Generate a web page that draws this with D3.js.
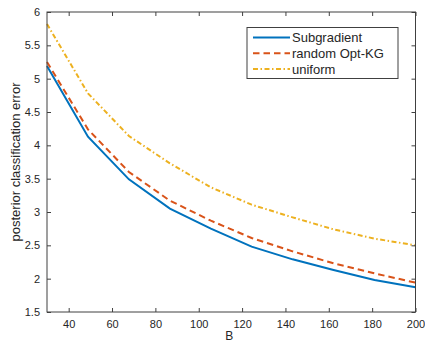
<!DOCTYPE html>
<html>
<head>
<meta charset="utf-8">
<script src="https://cdn.jsdelivr.net/npm/d3@7"></script>
<style>
    body { margin: 0; background: #fff; }
    text { font-family: "Liberation Sans", Arial, sans-serif; fill: #262626; }
</style>
</head>
<body>
<svg id="chart" width="425" height="343"></svg>
<script>
var budgets = [30, 48.9, 67.8, 86.7, 105.6, 124.4, 143.3, 162.2, 181.1, 200];
var subgradient = [5.19, 4.13, 3.49, 3.05, 2.75, 2.48, 2.29, 2.13, 1.98, 1.87];
var randomOptKG = [5.25, 4.24, 3.60, 3.17, 2.87, 2.61, 2.41, 2.23, 2.08, 1.94];
var uniform = [5.82, 4.78, 4.14, 3.73, 3.37, 3.11, 2.92, 2.74, 2.60, 2.50];
var xTicks = [40, 60, 80, 100, 120, 140, 160, 180, 200];
var yTicks = [1.5, 2, 2.5, 3, 3.5, 4, 4.5, 5, 5.5, 6];

var series = [
    { name: 'Subgradient', values: subgradient, color: '#0072BD', dash: null },
    { name: 'random Opt-KG', values: randomOptKG, color: '#D95319', dash: '6.5,4' },
    { name: 'uniform', values: uniform, color: '#EDB120', dash: '5,2.5,1.5,2.5' }
];

var svg = d3.select('#chart');
var margin = { top: 12, left: 47, bottom: 31, right: 9.5 };
var width = 425 - margin.left - margin.right;
var height = 343 - margin.top - margin.bottom;
var axisColor = '#404040';

var x = d3.scaleLinear().domain([30, 200]).range([0, width]);
var y = d3.scaleLinear().domain([1.5, 6]).range([height, 0]);

var plot = svg.append('g')
    .attr('transform', 'translate(' + margin.left + ',' + margin.top + ')');

// Lines.
var line = d3.line()
    .x(function(d, i) { return x(budgets[i]); })
    .y(function(d) { return y(d); });

series.forEach(function(s) {
    plot.append('path')
        .datum(s.values)
        .attr('d', line)
        .attr('fill', 'none')
        .attr('stroke', s.color)
        .attr('stroke-width', 2)
        .attr('stroke-dasharray', s.dash);
});

// Axes, MATLAB style: box with inward ticks.
function styleAxis(g, hideText) {
    g.select('.domain').remove();
    g.selectAll('.tick line').attr('stroke', axisColor);
    g.selectAll('.tick text')
        .attr('font-size', 11)
        .attr('fill', '#262626')
        .style('font-family', '"Liberation Sans", Arial, sans-serif');
    if(hideText)
        g.selectAll('.tick text').remove();
}

plot.append('g')
    .attr('transform', 'translate(0,' + height + ')')
    .call(d3.axisBottom(x).tickValues(xTicks).tickSizeInner(-4).tickSizeOuter(0).tickPadding(8))
    .call(styleAxis, false);

plot.append('g')
    .call(d3.axisTop(x).tickValues(xTicks).tickSizeInner(-4).tickSizeOuter(0))
    .call(styleAxis, true);

plot.append('g')
    .call(d3.axisLeft(y).tickValues(yTicks).tickFormat(d3.format('')).tickSizeInner(-4).tickSizeOuter(0).tickPadding(7))
    .call(styleAxis, false);

plot.append('g')
    .attr('transform', 'translate(' + width + ',0)')
    .call(d3.axisRight(y).tickValues(yTicks).tickSizeInner(-4).tickSizeOuter(0))
    .call(styleAxis, true);

plot.append('rect')
    .attr('width', width)
    .attr('height', height)
    .attr('fill', 'none')
    .attr('stroke', axisColor)
    .attr('stroke-width', 1);

// Axis labels.
svg.append('text')
    .attr('x', margin.left + width / 2 - 2)
    .attr('y', 340)
    .attr('text-anchor', 'middle')
    .attr('font-size', 12)
    .text('B');

svg.append('text')
    .attr('transform', 'translate(20,' + (margin.top + height / 2) + ') rotate(-90)')
    .attr('text-anchor', 'middle')
    .attr('font-size', 13)
    .text('posterior classification error');

// Legend.
var legend = svg.append('g')
    .attr('transform', 'translate(247,27.5)');

legend.append('rect')
    .attr('width', 151)
    .attr('height', 51)
    .attr('fill', '#fff')
    .attr('stroke', axisColor)
    .attr('stroke-width', 1);

series.forEach(function(s, i) {
    var row = legend.append('g')
        .attr('transform', 'translate(0,' + (10 + i * 15.8) + ')');
    row.append('line')
        .attr('x1', 6)
        .attr('x2', 43)
        .attr('stroke', s.color)
        .attr('stroke-width', 2)
        .attr('stroke-dasharray', s.dash);
    row.append('text')
        .attr('x', 45)
        .attr('y', 4.5)
        .attr('font-size', 13)
        .text(s.name);
});
</script>
</body>
</html>
